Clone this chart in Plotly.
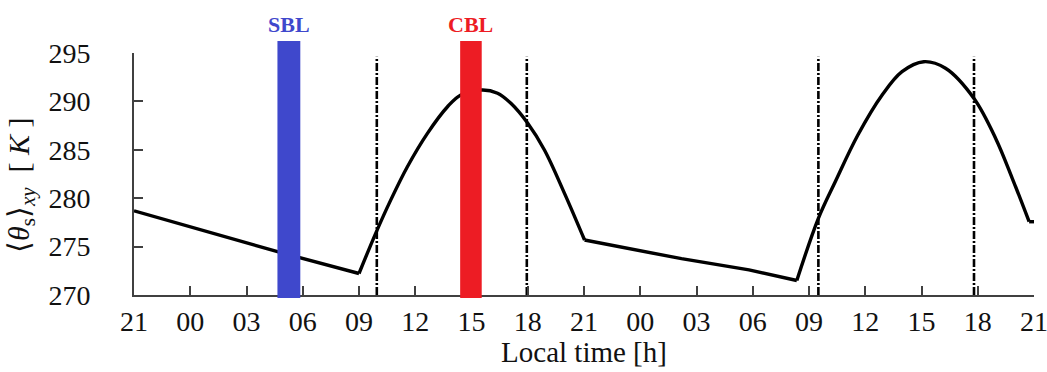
import plotly.graph_objects as go

# ---- data (hours since 21:00 local of day 0) ----
night1_h = [0.0, 3.5, 7.7, 12.0]
night1_theta = [278.7, 276.75, 274.45, 272.22]

day1_h = [12.0, 12.89, 13.69, 14.58, 15.65, 16.72, 17.43, 18.59, 19.39, 20.1,
          21.0, 21.89, 22.96, 24.03]
day1_theta = [272.22, 276.37, 279.8, 283.25, 286.7, 289.45, 290.66, 291.18,
              290.84, 289.8, 287.74, 284.98, 280.5, 275.68]

night2_h = [24.03, 24.9, 29.2, 32.8, 35.35]
night2_theta = [275.68, 275.34, 273.75, 272.6, 271.5]

day2_h = [35.35, 36.5, 37.4, 38.6, 39.9, 40.96, 42.12, 43.28, 44.8, 45.95,
          46.84, 47.74]
day2_theta = [271.5, 277.92, 281.7, 286.5, 290.66, 293.07, 294.1, 293.42,
              290.3, 286.2, 282.06, 277.57]

tail_h = [47.74, 48.0]
tail_theta = [277.57, 277.57]

transition_h = [12.95, 20.95, 36.5, 44.8]
transition_top = 294.6
axis_bottom = 270

regime_names = ["SBL", "CBL"]
regime_center_h = [8.26, 17.97]
regime_width_h = [1.22, 1.15]
regime_colors = ["#3F48CC", "#ED1C24"]
regime_base = 269.7
regime_top = 296.24

tick_vals = list(range(0, 49, 3))
tick_text = ["21", "00", "03", "06", "09", "12", "15", "18",
             "21", "00", "03", "06", "09", "12", "15", "18", "21"]
y_ticks = [270, 275, 280, 285, 290, 295]
y_range = [270, 295]

SERIF = "Liberation Serif"
AX = "#404040"
TXT = "#111111"

fig = go.Figure()

segments = [(night1_h, night1_theta, "linear"), (day1_h, day1_theta, "spline"),
            (night2_h, night2_theta, "linear"), (day2_h, day2_theta, "spline"),
            (tail_h, tail_theta, "linear")]
for xs, ys, shp in segments:
    fig.add_trace(go.Scatter(x=xs, y=ys, mode="lines",
                             line=dict(color="black", width=3.4, shape=shp, smoothing=1.0),
                             showlegend=False, hoverinfo="skip"))

for xv in transition_h:
    fig.add_trace(go.Scatter(x=[xv, xv], y=[axis_bottom, transition_top], mode="lines",
                             line=dict(color="black", width=2.6, dash="8px,2px,2px,2px"),
                             showlegend=False, hoverinfo="skip"))


def to_paper(v):
    return (v - y_range[0]) / (y_range[1] - y_range[0])


for name, c, w, col in zip(regime_names, regime_center_h, regime_width_h, regime_colors):
    fig.add_shape(type="rect", xref="x", yref="paper",
                  x0=c - w / 2, x1=c + w / 2,
                  y0=to_paper(regime_base), y1=to_paper(regime_top),
                  fillcolor=col, line=dict(width=0), layer="above")
    fig.add_annotation(x=c, y=to_paper(regime_top), xref="x", yref="paper",
                       text="<b>" + name + "</b>",
                       showarrow=False, yanchor="bottom", yshift=2,
                       font=dict(family=SERIF, size=22, color=col))

y_title = ("⟨<i>θ</i><sub>s</sub>⟩<sub><i>xy</i></sub>&nbsp;&nbsp;[&nbsp;<i>K</i>&nbsp;]"
           "&nbsp;&nbsp;&nbsp;")

fig.update_layout(
    width=1047, height=372,
    margin=dict(l=134, r=13, t=53, b=77),
    paper_bgcolor="white", plot_bgcolor="white",
    xaxis=dict(range=[0, 48], tickvals=tick_vals, ticktext=tick_text,
               ticks="inside", ticklen=9, tickwidth=1.5, tickcolor=AX,
               showline=True, linecolor=AX, linewidth=1.8,
               showgrid=False, zeroline=False, ticklabelstandoff=0,
               ticklabeloverflow="allow",
               automargin=False,
               tickfont=dict(family=SERIF, size=28, color=TXT),
               title=dict(text="Local time [h]", standoff=2,
                          font=dict(family=SERIF, size=29, color=TXT))),
    yaxis=dict(range=y_range, tickvals=y_ticks,
               ticks="inside", ticklen=9, tickwidth=1.5, tickcolor=AX,
               showline=True, linecolor=AX, linewidth=1.8,
               showgrid=False, zeroline=False, ticklabelstandoff=36,
               automargin=False,
               tickfont=dict(family=SERIF, size=28, color=TXT),
               title=dict(text=y_title, standoff=10,
                          font=dict(family=SERIF, size=30, color=TXT))),
)

fig.write_html("out.html", config={"displayModeBar": False},
               post_script="document.body.style.margin='0';document.body.style.padding='0';")
